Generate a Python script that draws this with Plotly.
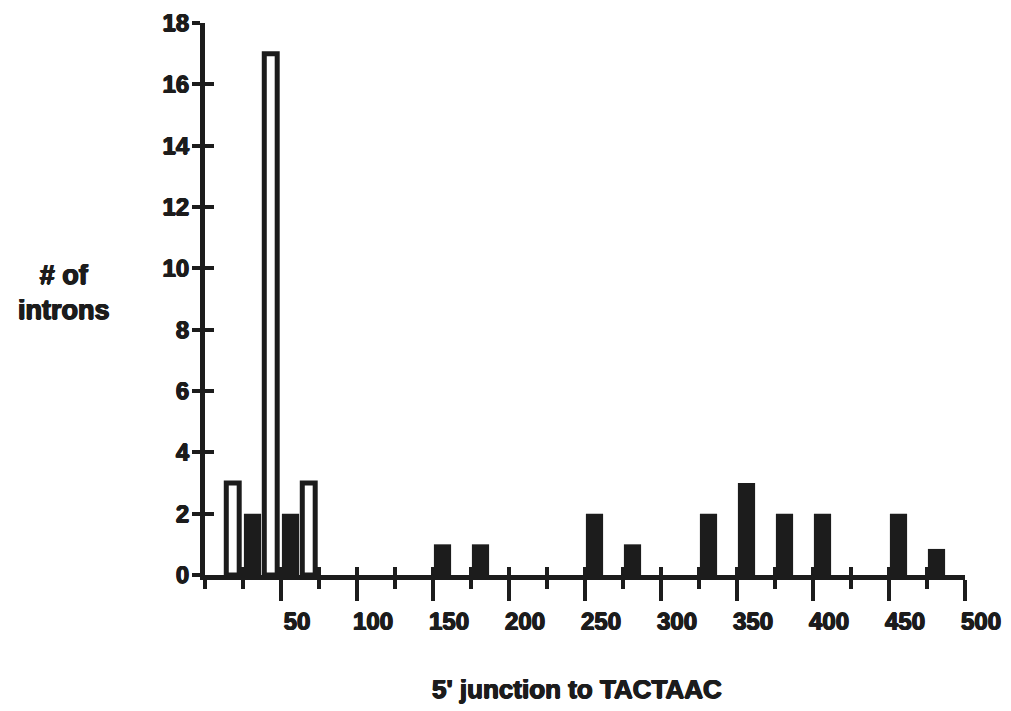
import plotly.graph_objects as go

# Data: 25-unit bins (left edges), distance from 5' junction to TACTAAC
bins_filled = [25, 50, 150, 175, 250, 275, 325, 350, 375, 400, 450, 475]
counts_filled = [2, 2, 1, 1, 2, 1, 2, 3, 2, 2, 2, 0.85]

bins_open = [0, 25, 50]
counts_open = [3, 17, 3]

x_tickvals = [50, 100, 150, 200, 250, 300, 350, 400, 450, 500]
x_ticktext = [str(v) for v in x_tickvals]
y_tickvals = [0, 2, 4, 6, 8, 10, 12, 14, 16, 18]

INK = "#1c1c1c"
FONT = "Liberation Sans"
HEAVY = f"0.7px 0 0 {INK}, -0.7px 0 0 {INK}, 0 0.6px 0 {INK}, 0 -0.4px 0 {INK}"

fig = go.Figure()

fig.add_trace(go.Bar(
    x=bins_filled, y=counts_filled,
    width=11.3, offset=0.6,
    marker=dict(color=INK, line=dict(width=0)),
    showlegend=False, hoverinfo="skip",
))
fig.add_trace(go.Bar(
    x=bins_open, y=counts_open,
    width=8.5, offset=14.0,
    marker=dict(color="white", line=dict(color=INK, width=5)),
    showlegend=False, hoverinfo="skip",
))
# invisible trace to activate overlay axes (used for the inner half of crossing ticks)
fig.add_trace(go.Scatter(
    x=[0], y=[0], xaxis="x2", yaxis="y2", mode="markers",
    marker=dict(opacity=0), showlegend=False, hoverinfo="skip",
))

tickfont = dict(family=FONT, size=24, weight="bold", color=INK, shadow=HEAVY)

fig.update_layout(
    width=1011, height=711,
    margin=dict(l=205, r=46, t=23, b=136),
    paper_bgcolor="white", plot_bgcolor="white",
    barmode="overlay",
    xaxis=dict(
        range=[0, 500], showgrid=False, zeroline=False, automargin=False,
        showline=True, linecolor=INK, linewidth=5,
        tickmode="array", tickvals=x_tickvals, ticktext=x_ticktext,
        ticks="outside", ticklen=21, tickwidth=4, tickcolor=INK,
        minor=dict(ticks="outside", dtick=25, tick0=0, ticklen=9, tickwidth=4,
                   tickcolor=INK, showgrid=False),
        tickfont=tickfont, ticklabelshift=16, ticklabelstandoff=0,
    ),
    yaxis=dict(
        range=[0, 18], showgrid=False, zeroline=False, automargin=False,
        showline=True, linecolor=INK, linewidth=5,
        tickmode="array", tickvals=y_tickvals,
        ticks="outside", ticklen=8, tickwidth=4, tickcolor=INK,
        tickfont=tickfont, ticklabelstandoff=-2,
    ),
    xaxis2=dict(
        overlaying="x", anchor="y", range=[0, 500], showgrid=False, zeroline=False,
        automargin=False, showline=False, tickmode="linear", tick0=0, dtick=25,
        ticks="inside", ticklen=8, tickwidth=4, tickcolor=INK, showticklabels=False,
    ),
    yaxis2=dict(
        overlaying="y", anchor="x", range=[0, 18], showgrid=False, zeroline=False,
        automargin=False, showline=False, tickmode="array", tickvals=y_tickvals,
        ticks="inside", ticklen=9, tickwidth=4, tickcolor=INK, showticklabels=False,
    ),
    annotations=[
        dict(text="5' junction to TACTAAC", xref="paper", yref="paper",
             x=0.489, y=-0.2065, xanchor="center", yanchor="middle", showarrow=False,
             font=dict(family=FONT, size=26, weight="bold", color=INK, shadow=HEAVY)),
        dict(text="# of<br>introns", xref="paper", yref="paper",
             x=-0.185, y=0.511, xanchor="center", yanchor="middle", showarrow=False,
             font=dict(family=FONT, size=27, weight="bold", color=INK, shadow=HEAVY)),
    ],
)

fig.write_html("out.html")
